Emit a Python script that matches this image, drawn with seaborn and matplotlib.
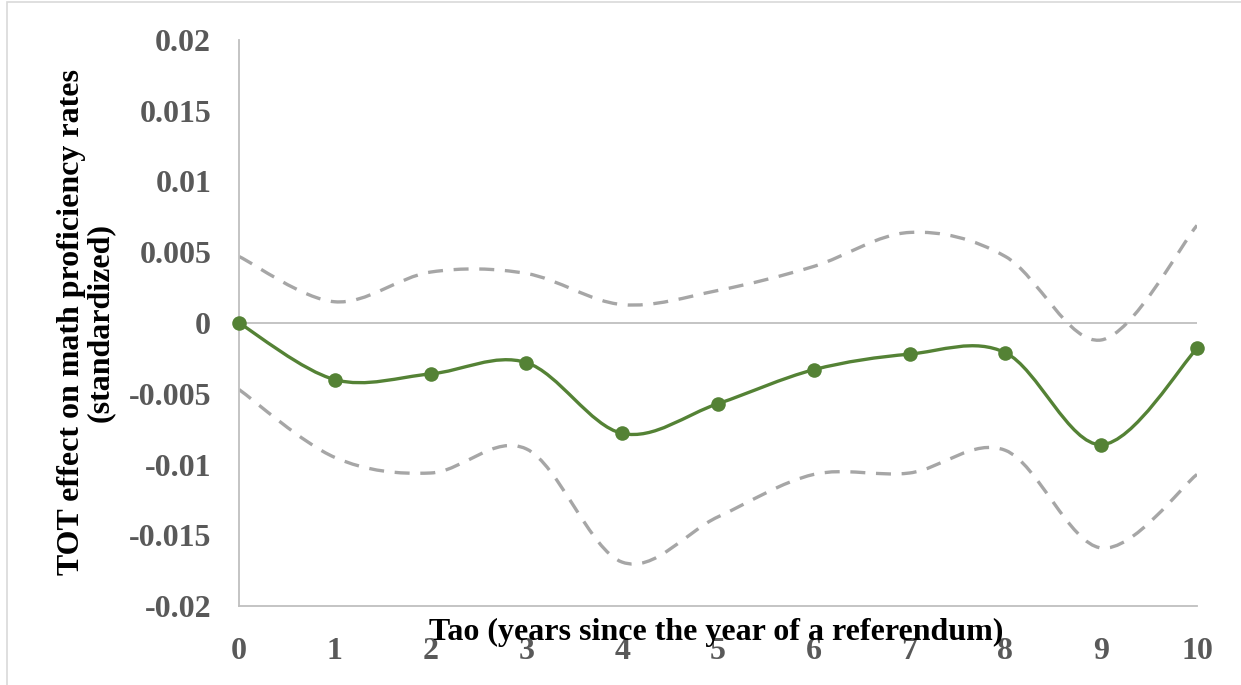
import numpy as np
import pandas as pd
import seaborn as sns
import matplotlib.pyplot as plt
from matplotlib.path import Path
from matplotlib.patches import PathPatch, Rectangle

# data
tao = [0, 1, 2, 3, 4, 5, 6, 7, 8, 9, 10]
effect = [0.0, -0.0040, -0.0036, -0.0028, -0.0078, -0.0057, -0.0033, -0.0022, -0.0021, -0.0086, -0.0018]
upper = [0.0047, 0.0015, 0.0036, 0.0035, 0.0013, 0.0023, 0.0040, 0.0064, 0.0047, -0.0012, 0.0069]
lower = [-0.0047, -0.0095, -0.0106, -0.0089, -0.0169, -0.0137, -0.0107, -0.0106, -0.0090, -0.0159, -0.0107]
yticks = [-0.02, -0.015, -0.01, -0.005, 0, 0.005, 0.01, 0.015, 0.02]
ytick_labels = ['-0.02', '-0.015', '-0.01', '-0.005', '0', '0.005', '0.01', '0.015', '0.02']

df = pd.DataFrame({'tao': tao, 'effect': effect, 'upper': upper, 'lower': lower})

sns.set_style('white')
plt.rcParams['font.family'] = ['Liberation Serif', 'DejaVu Serif']
plt.rcParams['font.weight'] = 'bold'


def smooth_path(xs, ys):
    # excel style smoothed line: bezier segments, catmull-rom control points
    pts = np.column_stack([xs, ys]).astype(float)
    n = len(pts)
    verts = [pts[0]]
    codes = [Path.MOVETO]
    for i in range(n - 1):
        p0 = pts[i - 1] if i > 0 else pts[i]
        p1 = pts[i]
        p2 = pts[i + 1]
        p3 = pts[i + 2] if i + 2 < n else pts[i + 1]
        c1 = p1 + (p2 - p0) / 6.0
        c2 = p2 - (p3 - p1) / 6.0
        verts += [c1, c2, p2]
        codes += [Path.CURVE4] * 3
    return Path(verts, codes)


fig = plt.figure(figsize=(12.41, 6.85), dpi=100)
ax = fig.add_axes([239 / 1241, 1 - 606 / 685, (1197 - 239) / 1241, (606 - 40) / 685])

green = '#548235'
grey_dash = '#A6A6A6'
axis_grey = '#BFBFBF'

ax.axhline(0, color=axis_grey, lw=1.3, zorder=1)

for col in ['upper', 'lower']:
    p = PathPatch(smooth_path(df['tao'], df[col]), fill=False, edgecolor=grey_dash,
                  lw=2.4, linestyle=(0, (4.5, 3.2)), capstyle='butt', zorder=2)
    ax.add_patch(p)

ax.add_patch(PathPatch(smooth_path(df['tao'], df['effect']), fill=False,
                       edgecolor=green, lw=2.4, zorder=3))
sns.scatterplot(data=df, x='tao', y='effect', ax=ax, color=green, s=110,
                edgecolor=green, linewidth=0, zorder=4, clip_on=False)

ax.set_xlim(0, 10)
ax.set_ylim(-0.02, 0.02)
ax.set_xticks(tao)
ax.set_xticklabels([str(t) for t in tao])
ax.set_yticks(yticks)
ax.set_yticklabels(ytick_labels)
ax.tick_params(axis='both', length=0, labelsize=23, labelcolor='#595959')
ax.tick_params(axis='y', pad=20)
ax.tick_params(axis='x', pad=22)
for lab in ax.get_xticklabels() + ax.get_yticklabels():
    lab.set_fontweight('bold')

for s in ['top', 'right']:
    ax.spines[s].set_visible(False)
for s in ['left', 'bottom']:
    ax.spines[s].set_color(axis_grey)
    ax.spines[s].set_linewidth(1.3)
ax.set_xlabel('')
ax.set_ylabel('')

fig.text(716 / 1241, 1 - 632 / 685, 'Tao (years since the year of a referendum)',
         ha='center', va='center', fontsize=23, fontweight='bold', color='black')
fig.text(86 / 1241, 1 - 322 / 685, 'TOT effect on math proficiency rates\n(standardized)',
         ha='center', va='center', rotation=90, fontsize=23, fontweight='bold',
         color='black', multialignment='center', linespacing=1.0)

fig.patches.append(Rectangle((7 / 1241, -0.1), 1.2, 1 - 2 / 685 + 0.1, transform=fig.transFigure,
                             fill=False, edgecolor='#D9D9D9', lw=1.2, zorder=0))

fig.savefig('out.png', dpi=100)
